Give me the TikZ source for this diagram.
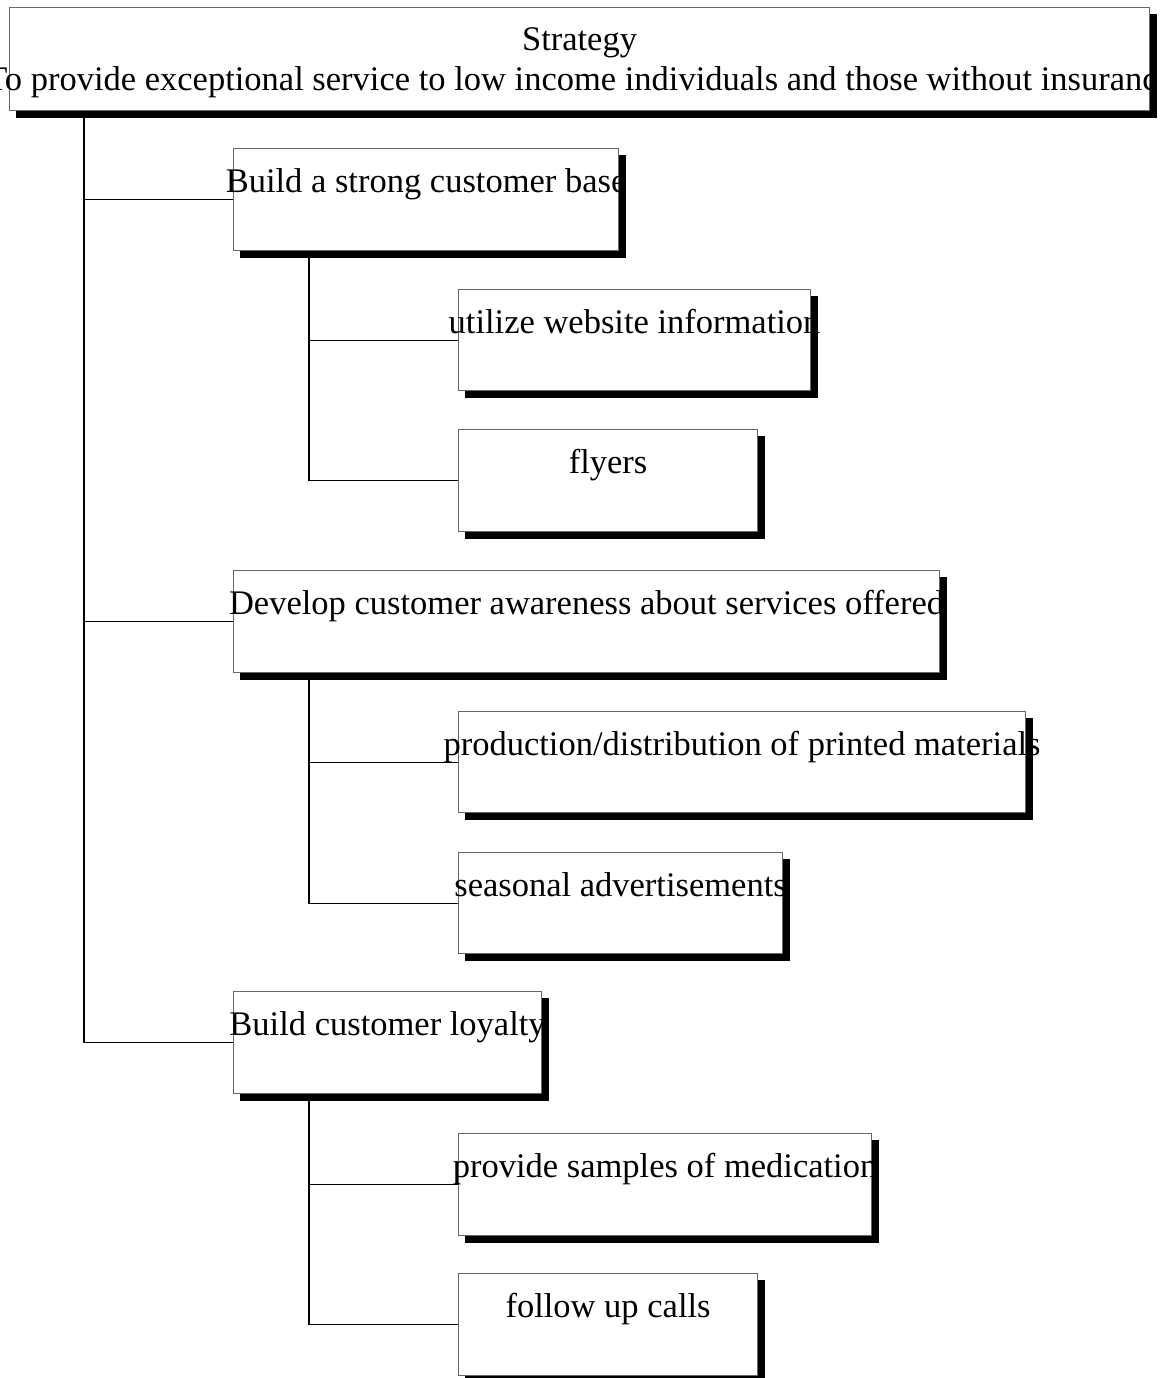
\documentclass[tikz,border=0pt]{standalone}
\usepackage{fontspec}
\setmainfont{Liberation Serif}
\begin{document}
\begin{tikzpicture}[x=1pt,y=-1pt,
  box/.style={draw=black!60, line width=1.1pt, fill=white, anchor=north west, inner sep=0pt},
  lbl/.style={anchor=base, inner sep=0pt, font=\fontsize{34.5pt}{40pt}\selectfont},
  conn/.style={draw=black, line width=1.1pt}]
\useasboundingbox (0,0) rectangle (1161,1378);
\clip (0,0) rectangle (1157,1378);
% boxes
\node[box, minimum width=1140pt, minimum height=103pt] (top) at (9,7) {};
\node[box, minimum width=385pt, minimum height=102pt] (b1) at (233,148) {};
\node[box, minimum width=706pt, minimum height=102pt] (b2) at (233,570) {};
\node[box, minimum width=308pt, minimum height=102pt] (b3) at (233,991) {};
\node[box, minimum width=352pt, minimum height=101pt] (c1) at (458,289) {};
\node[box, minimum width=299pt, minimum height=102pt] (c2) at (458,429) {};
\node[box, minimum width=567pt, minimum height=101pt] (c3) at (458,711) {};
\node[box, minimum width=324pt, minimum height=101pt] (c4) at (458,852) {};
\node[box, minimum width=413pt, minimum height=102pt] (c5) at (458,1133) {};
\node[box, minimum width=299pt, minimum height=102pt] (c6) at (458,1273) {};
% connectors
\coordinate (t0) at ([xshift=75pt]top.south west);
\draw[conn] (t0) |- (b3.west);
\draw[conn] (t0 |- b1.west) -- (b1.west);
\draw[conn] (t0 |- b2.west) -- (b2.west);
\coordinate (s1) at ([xshift=76pt]b1.south west);
\draw[conn] (s1) |- (c2.west);
\draw[conn] (s1 |- c1.west) -- (c1.west);
\coordinate (s2) at ([xshift=76pt]b2.south west);
\draw[conn] (s2) |- (c4.west);
\draw[conn] (s2 |- c3.west) -- (c3.west);
\coordinate (s3) at ([xshift=76pt]b3.south west);
\draw[conn] (s3) |- (c6.west);
\draw[conn] (s3 |- c5.west) -- (c5.west);
% labels
\node[lbl] (tl1) at ([yshift=-44pt]top.north) {Strategy};
\node[lbl] (tl2) at ([yshift=-84pt]top.north) {To provide exceptional service to low income individuals and those without insurance};
\node[lbl] (lb1) at ([yshift=-44pt]b1.north) {Build a strong customer base};
\node[lbl] (lb2) at ([yshift=-44pt]b2.north) {Develop customer awareness about services offered};
\node[lbl] (lb3) at ([yshift=-44pt]b3.north) {Build customer loyalty};
\node[lbl] (lc1) at ([yshift=-44pt]c1.north) {utilize website information};
\node[lbl] (lc2) at ([yshift=-44pt]c2.north) {flyers};
\node[lbl] (lc3) at ([yshift=-44pt]c3.north) {production/distribution of printed materials};
\node[lbl] (lc4) at ([yshift=-44pt]c4.north) {seasonal advertisements};
\node[lbl] (lc5) at ([yshift=-44pt]c5.north) {provide samples of medication};
\node[lbl] (lc6) at ([yshift=-44pt]c6.north) {follow up calls};
% shadows
\foreach \n in {top,b1,b2,b3,c1,c2,c3,c4,c5,c6}{
  \fill[black] ([yshift=-7pt]\n.north east) rectangle ([xshift=7pt,yshift=-7pt]\n.south east);
  \fill[black] ([xshift=7pt]\n.south west) rectangle ([xshift=7pt,yshift=-7pt]\n.south east);
}
\end{tikzpicture}
\end{document}
